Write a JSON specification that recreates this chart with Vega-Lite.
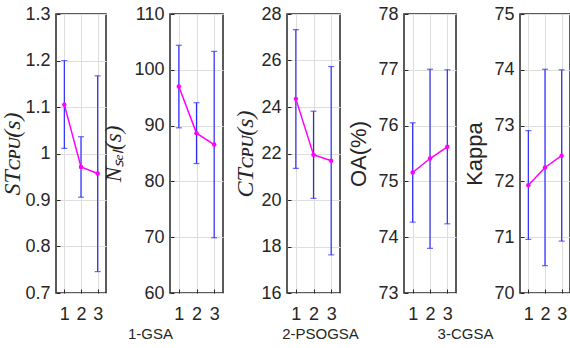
{
  "$schema": "https://vega.github.io/schema/vega-lite/v6.json",
  "background": "white",
  "padding": {"left": 0, "top": 4, "right": 0, "bottom": 0},
  "bounds": "flush",
  "spacing": 64,
  "datasets": {
    "stats": [
      {"panel": "ST", "alg": 1, "mean": 1.105, "lo": 1.011, "hi": 1.2},
      {"panel": "ST", "alg": 2, "mean": 0.971, "lo": 0.906, "hi": 1.036},
      {"panel": "ST", "alg": 3, "mean": 0.957, "lo": 0.746, "hi": 1.167},
      {"panel": "NSEL", "alg": 1, "mean": 97.0, "lo": 89.6, "hi": 104.4},
      {"panel": "NSEL", "alg": 2, "mean": 88.65, "lo": 83.2, "hi": 94.1},
      {"panel": "NSEL", "alg": 3, "mean": 86.6, "lo": 69.9, "hi": 103.3},
      {"panel": "CT", "alg": 1, "mean": 24.35, "lo": 21.36, "hi": 27.33},
      {"panel": "CT", "alg": 2, "mean": 21.95, "lo": 20.07, "hi": 23.82},
      {"panel": "CT", "alg": 3, "mean": 21.69, "lo": 17.64, "hi": 25.74},
      {"panel": "OA", "alg": 1, "mean": 75.16, "lo": 74.27, "hi": 76.05},
      {"panel": "OA", "alg": 2, "mean": 75.41, "lo": 73.8, "hi": 77.01},
      {"panel": "OA", "alg": 3, "mean": 75.62, "lo": 74.24, "hi": 77.0},
      {"panel": "KAPPA", "alg": 1, "mean": 71.93, "lo": 70.96, "hi": 72.91},
      {"panel": "KAPPA", "alg": 2, "mean": 72.25, "lo": 70.49, "hi": 74.01},
      {"panel": "KAPPA", "alg": 3, "mean": 72.46, "lo": 70.93, "hi": 74.0}
    ]
  },
  "config": {
    "font": "Liberation Sans",
    "view": {"stroke": "#262626", "strokeWidth": 1.5},
    "axis": {
      "domain": false,
      "labelFont": "Liberation Sans",
      "labelFontSize": 18,
      "labelColor": "#262626",
      "gridColor": "#dedede",
      "gridWidth": 1,
      "tickColor": "#262626",
      "tickSize": -4,
      "titleColor": "#262626",
      "titleFontWeight": "normal"
    },
    "axisY": {"labelPadding": 10, "titlePadding": 7},
    "axisX": {"labelPadding": 16, "titleFontSize": 15, "titleFont": "Liberation Sans", "titlePadding": 3},
    "tick": {"orient": "horizontal"}
  },
  "hconcat": [
    {
      "width": 50, "height": 279,
      "data": {"name": "stats"},
      "transform": [{"filter": "datum.panel === 'ST'"}],
      "encoding": {
        "x": {"field": "alg", "type": "quantitative", "scale": {"domain": [0.5, 3.5]}, "axis": {"values": [1, 2, 3], "format": "d", "title": null}}
      },
      "layer": [
        {"mark": {"type": "rule", "color": "#2a2aff", "strokeWidth": 1.2},
         "encoding": {"y": {"field": "lo", "type": "quantitative", "scale": {"domain": [0.7, 1.3]},
           "axis": {"values": [0.7, 0.8, 0.9, 1, 1.1, 1.2, 1.3], "format": "~g", "title": "STᴄᴘᴜ(s)", "titleFont": "Liberation Serif", "titleFontStyle": "italic", "titleFontSize": 24, "titlePadding": 0}},
           "y2": {"field": "hi"}}},
        {"mark": {"type": "tick", "color": "#2a2aff", "size": 6, "thickness": 1.2},
         "encoding": {"y": {"field": "lo", "type": "quantitative", "scale": {"domain": [0.7, 1.3]}}}},
        {"mark": {"type": "tick", "color": "#2a2aff", "size": 6, "thickness": 1.2},
         "encoding": {"y": {"field": "hi", "type": "quantitative", "scale": {"domain": [0.7, 1.3]}}}},
        {"mark": {"type": "line", "color": "#ff00ff", "strokeWidth": 1.5, "point": {"filled": true, "size": 20, "color": "#ff00ff"}},
         "encoding": {"y": {"field": "mean", "type": "quantitative", "scale": {"domain": [0.7, 1.3]}}}}
      ]
    },
    {
      "width": 53, "height": 279,
      "data": {"name": "stats"},
      "transform": [{"filter": "datum.panel === 'NSEL'"}],
      "encoding": {
        "x": {"field": "alg", "type": "quantitative", "scale": {"domain": [0.5, 3.5]}, "axis": {"values": [1, 2, 3], "format": "d", "title": "1-GSA", "titleX": -20}}
      },
      "layer": [
        {"mark": {"type": "rule", "color": "#2a2aff", "strokeWidth": 1.2},
         "encoding": {"y": {"field": "lo", "type": "quantitative", "scale": {"domain": [60, 110]},
           "axis": {"values": [60, 70, 80, 90, 100, 110], "format": "d", "title": "Nₛₑₗ(s)", "titleFont": "Liberation Serif", "titleFontStyle": "italic", "titleFontSize": 23, "titlePadding": 8}},
           "y2": {"field": "hi"}}},
        {"mark": {"type": "tick", "color": "#2a2aff", "size": 6, "thickness": 1.2},
         "encoding": {"y": {"field": "lo", "type": "quantitative", "scale": {"domain": [60, 110]}}}},
        {"mark": {"type": "tick", "color": "#2a2aff", "size": 6, "thickness": 1.2},
         "encoding": {"y": {"field": "hi", "type": "quantitative", "scale": {"domain": [60, 110]}}}},
        {"mark": {"type": "line", "color": "#ff00ff", "strokeWidth": 1.5, "point": {"filled": true, "size": 20, "color": "#ff00ff"}},
         "encoding": {"y": {"field": "mean", "type": "quantitative", "scale": {"domain": [60, 110]}}}}
      ]
    },
    {
      "width": 53, "height": 279,
      "data": {"name": "stats"},
      "transform": [{"filter": "datum.panel === 'CT'"}],
      "encoding": {
        "x": {"field": "alg", "type": "quantitative", "scale": {"domain": [0.5, 3.5]}, "axis": {"values": [1, 2, 3], "format": "d", "title": "2-PSOGSA", "titleX": 33}}
      },
      "layer": [
        {"mark": {"type": "rule", "color": "#2a2aff", "strokeWidth": 1.2},
         "encoding": {"y": {"field": "lo", "type": "quantitative", "scale": {"domain": [16, 28]},
           "axis": {"values": [16, 18, 20, 22, 24, 26, 28], "format": "d", "title": "CTᴄᴘᴜ(s)", "titleFont": "Liberation Serif", "titleFontStyle": "italic", "titleFontSize": 24, "titlePadding": 3}},
           "y2": {"field": "hi"}}},
        {"mark": {"type": "tick", "color": "#2a2aff", "size": 6, "thickness": 1.2},
         "encoding": {"y": {"field": "lo", "type": "quantitative", "scale": {"domain": [16, 28]}}}},
        {"mark": {"type": "tick", "color": "#2a2aff", "size": 6, "thickness": 1.2},
         "encoding": {"y": {"field": "hi", "type": "quantitative", "scale": {"domain": [16, 28]}}}},
        {"mark": {"type": "line", "color": "#ff00ff", "strokeWidth": 1.5, "point": {"filled": true, "size": 20, "color": "#ff00ff"}},
         "encoding": {"y": {"field": "mean", "type": "quantitative", "scale": {"domain": [16, 28]}}}}
      ]
    },
    {
      "width": 52, "height": 279,
      "data": {"name": "stats"},
      "transform": [{"filter": "datum.panel === 'OA'"}],
      "encoding": {
        "x": {"field": "alg", "type": "quantitative", "scale": {"domain": [0.5, 3.5]}, "axis": {"values": [1, 2, 3], "format": "d", "title": "3-CGSA", "titleX": 61}}
      },
      "layer": [
        {"mark": {"type": "rule", "color": "#2a2aff", "strokeWidth": 1.2},
         "encoding": {"y": {"field": "lo", "type": "quantitative", "scale": {"domain": [73, 78]},
           "axis": {"values": [73, 74, 75, 76, 77, 78], "format": "d", "title": "OA(%)", "titleFont": "Liberation Sans", "titleFontSize": 22}},
           "y2": {"field": "hi"}}},
        {"mark": {"type": "tick", "color": "#2a2aff", "size": 6, "thickness": 1.2},
         "encoding": {"y": {"field": "lo", "type": "quantitative", "scale": {"domain": [73, 78]}}}},
        {"mark": {"type": "tick", "color": "#2a2aff", "size": 6, "thickness": 1.2},
         "encoding": {"y": {"field": "hi", "type": "quantitative", "scale": {"domain": [73, 78]}}}},
        {"mark": {"type": "line", "color": "#ff00ff", "strokeWidth": 1.5, "point": {"filled": true, "size": 20, "color": "#ff00ff"}},
         "encoding": {"y": {"field": "mean", "type": "quantitative", "scale": {"domain": [73, 78]}}}}
      ]
    },
    {
      "width": 50, "height": 279,
      "data": {"name": "stats"},
      "transform": [{"filter": "datum.panel === 'KAPPA'"}],
      "encoding": {
        "x": {"field": "alg", "type": "quantitative", "scale": {"domain": [0.5, 3.5]}, "axis": {"values": [1, 2, 3], "format": "d", "title": null}}
      },
      "layer": [
        {"mark": {"type": "rule", "color": "#2a2aff", "strokeWidth": 1.2},
         "encoding": {"y": {"field": "lo", "type": "quantitative", "scale": {"domain": [70, 75]},
           "axis": {"values": [70, 71, 72, 73, 74, 75], "format": "d", "title": "Kappa", "titleFont": "Liberation Sans", "titleFontSize": 22}},
           "y2": {"field": "hi"}}},
        {"mark": {"type": "tick", "color": "#2a2aff", "size": 6, "thickness": 1.2},
         "encoding": {"y": {"field": "lo", "type": "quantitative", "scale": {"domain": [70, 75]}}}},
        {"mark": {"type": "tick", "color": "#2a2aff", "size": 6, "thickness": 1.2},
         "encoding": {"y": {"field": "hi", "type": "quantitative", "scale": {"domain": [70, 75]}}}},
        {"mark": {"type": "line", "color": "#ff00ff", "strokeWidth": 1.5, "point": {"filled": true, "size": 20, "color": "#ff00ff"}},
         "encoding": {"y": {"field": "mean", "type": "quantitative", "scale": {"domain": [70, 75]}}}}
      ]
    }
  ]
}
